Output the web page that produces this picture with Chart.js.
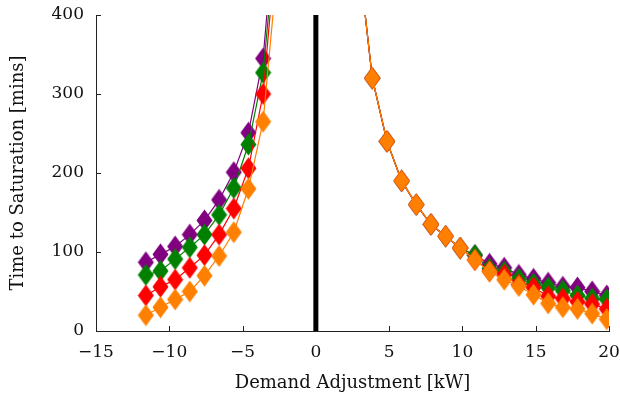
<!DOCTYPE html>
<html>
<head>
<meta charset="utf-8">
<script src="https://cdn.jsdelivr.net/npm/chart.js@4.4.1/dist/chart.umd.min.js"></script>
<style>
  html, body { margin: 0; padding: 0; background: #ffffff; }
  #wrap { width: 620px; height: 396px; }
</style>
</head>
<body>
<div id="wrap"><canvas id="chart" width="620" height="396"></canvas></div>
<script>
// Demand adjustment (kW) at which each run was evaluated
const curtailX = [-11.6, -10.6, -9.6, -8.6, -7.6, -6.6, -5.6, -4.6, -3.6, -2.6];
const boostX = [2.85, 3.85, 4.85, 5.85, 6.85, 7.85, 8.85, 9.85, 10.85, 11.85, 12.85, 13.85, 14.85, 15.85, 16.85, 17.85, 18.85, 19.85];

// Time to saturation (mins), one series per case, split at zero adjustment
const purpleLeft = [87, 97, 107, 122, 140, 166, 201, 251, 345, 560];
const greenLeft  = [71, 76, 91, 106, 122, 147, 181, 236, 327, 525];
const redLeft    = [45, 56, 65, 80, 96, 122, 155, 206, 300, 510];
const orangeLeft = [20, 30, 40, 50, 70, 95, 125, 180, 265, 465];

const purpleRight = [485, 320, 240, 190, 160, 135, 120, 105, 96, 85, 80, 71, 66, 61, 56, 55, 50, 45];
const greenRight  = [485, 320, 240, 190, 160, 135, 120, 105, 96, 79, 75, 66, 60, 55, 51, 45, 41, 40];
const redRight    = [485, 320, 240, 190, 160, 135, 120, 105, 90, 76, 71, 59, 55, 44, 41, 37, 34, 28];
const orangeRight = [485, 320, 240, 190, 160, 135, 120, 105, 90, 75, 65, 57, 46, 35, 30, 28, 22, 15];

// Zero-adjustment marker
const zeroLineX = [0, 0];
const zeroLineY = [0, 400];

// Axis ticks
const xTicks = [-15, -10, -5, 0, 5, 10, 15, 20];
const yTicks = [0, 100, 200, 300, 400];

const COLORS = {
  purple: 'rgb(128,0,128)',
  green: 'rgb(0,128,0)',
  red: 'rgb(255,0,0)',
  orange: 'rgb(255,128,0)'
};

// Tall filled diamond used as the point marker
function diamond(color) {
  const w = 17, h = 23;
  const c = document.createElement('canvas');
  c.width = w; c.height = h;
  const g = c.getContext('2d');
  g.fillStyle = color;
  g.beginPath();
  g.moveTo(w / 2, 0.5);
  g.lineTo(w - 0.5, h / 2);
  g.lineTo(w / 2, h - 0.5);
  g.lineTo(0.5, h / 2);
  g.closePath();
  g.fill();
  return c;
}

function pairs(xs, ys) {
  return xs.map((x, i) => ({ x: x, y: ys[i] }));
}

function series(xs, ys, color, order) {
  return {
    data: pairs(xs, ys),
    borderColor: color,
    backgroundColor: color,
    borderWidth: 1.2,
    pointStyle: diamond(color),
    pointRadius: 8,
    pointHoverRadius: 8,
    tension: 0,
    order: order
  };
}

const datasets = [
  series(curtailX, purpleLeft, COLORS.purple, 4),
  series(boostX, purpleRight, COLORS.purple, 4),
  series(curtailX, greenLeft, COLORS.green, 3),
  series(boostX, greenRight, COLORS.green, 3),
  series(curtailX, redLeft, COLORS.red, 2),
  series(boostX, redRight, COLORS.red, 2),
  series(curtailX, orangeLeft, COLORS.orange, 1),
  series(boostX, orangeRight, COLORS.orange, 1),
  {
    data: pairs(zeroLineX, zeroLineY),
    borderColor: '#000000',
    borderWidth: 5,
    pointRadius: 0,
    borderCapStyle: 'butt',
    order: 0
  }
];

const fmt = v => (v < 0 ? '\u2212' + Math.abs(v) : String(v));

// Short tick marks pointing into the plot area
const innerTicks = {
  id: 'innerTicks',
  beforeDatasetsDraw(chart) {
    const { ctx, chartArea, scales } = chart;
    ctx.save();
    ctx.strokeStyle = '#222222';
    ctx.lineWidth = 1;
    ctx.beginPath();
    xTicks.forEach(v => {
      const px = Math.round(scales.x.getPixelForValue(v)) + 0.5;
      ctx.moveTo(px, chartArea.bottom);
      ctx.lineTo(px, chartArea.bottom - 5);
    });
    yTicks.forEach(v => {
      const py = Math.round(scales.y.getPixelForValue(v)) + 0.5;
      ctx.moveTo(chartArea.left, py);
      ctx.lineTo(chartArea.left + 5, py);
    });
    ctx.stroke();
    ctx.restore();
  }
};

const FONT = '"DejaVu Serif", serif';

new Chart(document.getElementById('chart'), {
  type: 'line',
  data: { datasets },
  plugins: [innerTicks],
  options: {
    responsive: false,
    animation: false,
    events: [],
    layout: { padding: { top: 15, right: 11, left: 0, bottom: 0 } },
    plugins: { legend: { display: false }, tooltip: { enabled: false } },
    scales: {
      x: {
        type: 'linear',
        min: -15,
        max: 20,
        afterBuildTicks: s => { s.ticks = xTicks.map(v => ({ value: v })); },
        afterFit: s => { s.height = 65; s.paddingLeft = 0; s.paddingRight = 0; },
        grid: { display: false, drawTicks: false },
        border: { display: true, color: '#222222', width: 1 },
        ticks: {
          callback: v => fmt(v),
          color: '#111111',
          font: { family: FONT, size: 17 },
          padding: 11,
          maxRotation: 0,
          autoSkip: false
        },
        title: {
          display: true,
          text: 'Demand Adjustment [kW]',
          color: '#111111',
          font: { family: FONT, size: 18 },
          padding: { top: 0, bottom: 2 }
        }
      },
      y: {
        type: 'linear',
        min: 0,
        max: 400,
        afterBuildTicks: s => { s.ticks = yTicks.map(v => ({ value: v })); },
        afterFit: s => { s.width = 96; s.paddingTop = 0; s.paddingBottom = 0; },
        grid: { display: false, drawTicks: false },
        border: { display: true, color: '#222222', width: 1 },
        ticks: {
          callback: v => fmt(v),
          color: '#111111',
          font: { family: FONT, size: 17 },
          padding: 12,
          autoSkip: false
        },
        title: {
          display: true,
          text: 'Time to Saturation [mins]',
          color: '#111111',
          font: { family: FONT, size: 18 },
          padding: { top: 8, bottom: 0 }
        }
      }
    }
  }
});
</script>
</body>
</html>
